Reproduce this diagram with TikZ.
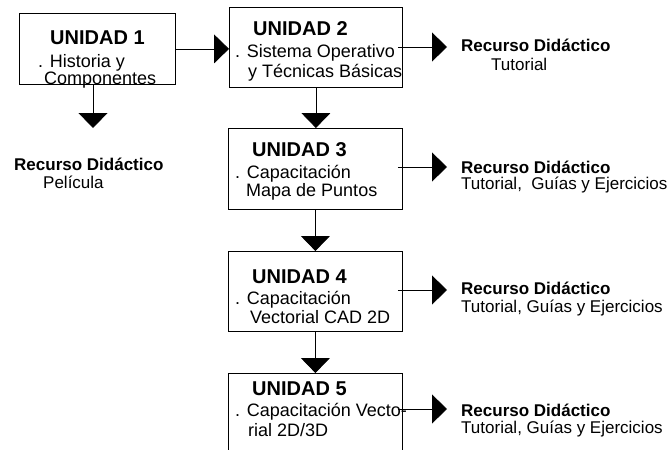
\documentclass[tikz,border=0pt]{standalone}
\usepackage{fontspec}
\setmainfont{Liberation Sans}
\usetikzlibrary{arrows.meta,calc}

\tikzset{
  unitbox/.style={draw, line width=0.8pt, rectangle, anchor=north west, inner sep=0pt},
  unittitle/.style={anchor=base west, inner sep=0pt, font=\fontsize{20}{22}\selectfont\bfseries},
  unittext/.style={anchor=base west, inner sep=0pt, font=\fontsize{18}{20}\selectfont},
  reshead/.style={anchor=base west, inner sep=0pt, font=\fontsize{17}{19}\selectfont\bfseries},
  restext/.style={anchor=base west, inner sep=0pt, font=\fontsize{17}{19}\selectfont},
  flow/.style={line width=0.8pt, -{Triangle[width=29pt,length=15pt]}},
}

\begin{document}
\begin{tikzpicture}[x=1pt, y=-1pt]
\clip (0,0) rectangle (670,450);

% unit boxes
\node[unitbox, minimum width=156pt, minimum height=71pt] (u1) at (19,13) {};
\node[unitbox, minimum width=173pt, minimum height=80pt] (u2) at (229,7) {};
\node[unitbox, minimum width=174pt, minimum height=81pt] (u3) at (228,128) {};
\node[unitbox, minimum width=174pt, minimum height=80pt] (u4) at (228,251) {};
\node[unitbox, minimum width=174pt, minimum height=95pt] (u5) at (228,373) {};

% box contents
\node[unittitle] (u1a) at (50,44) {UNIDAD 1};
\node[unittext]  (u1b) at (38,67) {. Historia y};
\node[unittext]  (u1c) at (44,84) {Componentes};

\node[unittitle] (u2a) at (253,35) {UNIDAD 2};
\node[unittext]  (u2b) at (235,57) {. Sistema Operativo};
\node[unittext]  (u2c) at (248,77) {y Técnicas Básicas};

\node[unittitle] (u3a) at (252,156) {UNIDAD 3};
\node[unittext]  (u3b) at (235,178) {. Capacitación};
\node[unittext]  (u3c) at (246,196) {Mapa de Puntos};

\node[unittitle] (u4a) at (252,283) {UNIDAD 4};
\node[unittext]  (u4b) at (235,304) {. Capacitación};
\node[unittext]  (u4c) at (250,323) {Vectorial CAD 2D};

\node[unittitle] (u5a) at (252,395) {UNIDAD 5};
\node[unittext]  (u5b) at (235,416) {. Capacitación Vecto-};
\node[unittext]  (u5c) at (248,436) {rial 2D/3D};

% teaching resources
\node[reshead] (r1a) at (14,170) {Recurso Didáctico};
\node[restext] (r1b) at (43,188) {Película};

\node[reshead] (r2a) at (461,51) {Recurso Didáctico};
\node[restext] (r2b) at (491,70) {Tutorial};

\node[reshead] (r3a) at (461,173) {Recurso Didáctico};
\node[restext] (r3b) at (461,189) {Tutorial,\ \ Guías y Ejercicios};

\node[reshead] (r4a) at (461,294) {Recurso Didáctico};
\node[restext] (r4b) at (461,312) {Tutorial, Guías y Ejercicios};

\node[reshead] (r5a) at (461,416) {Recurso Didáctico};
\node[restext] (r5b) at (461,433) {Tutorial, Guías y Ejercicios};

% arrow tips towards the resources
\coordinate (d1) at (93,128);
\coordinate (t2) at (447,47);
\coordinate (t3) at (447,167);
\coordinate (t4) at (447,290);
\coordinate (t5) at (447,409);

% connectors
\draw[flow] (u1.east) -- (u1.east -| u2.west);
\draw[flow] (u1.south -| d1) -- (d1);
\draw[flow] (u2.south) -- (u2.south |- u3.north);
\draw[flow] (u3.south) -- (u3.south |- u4.north);
\draw[flow] (u4.south) -- (u4.south |- u5.north);
\draw[flow] ([xshift=-5pt]u2.east |- t2) -- (t2);
\draw[flow] ([xshift=-5pt]u3.east |- t3) -- (t3);
\draw[flow] ([xshift=-5pt]u4.east |- t4) -- (t4);
\draw[flow] ([xshift=-5pt]u5.east |- t5) -- (t5);
\end{tikzpicture}
\end{document}
